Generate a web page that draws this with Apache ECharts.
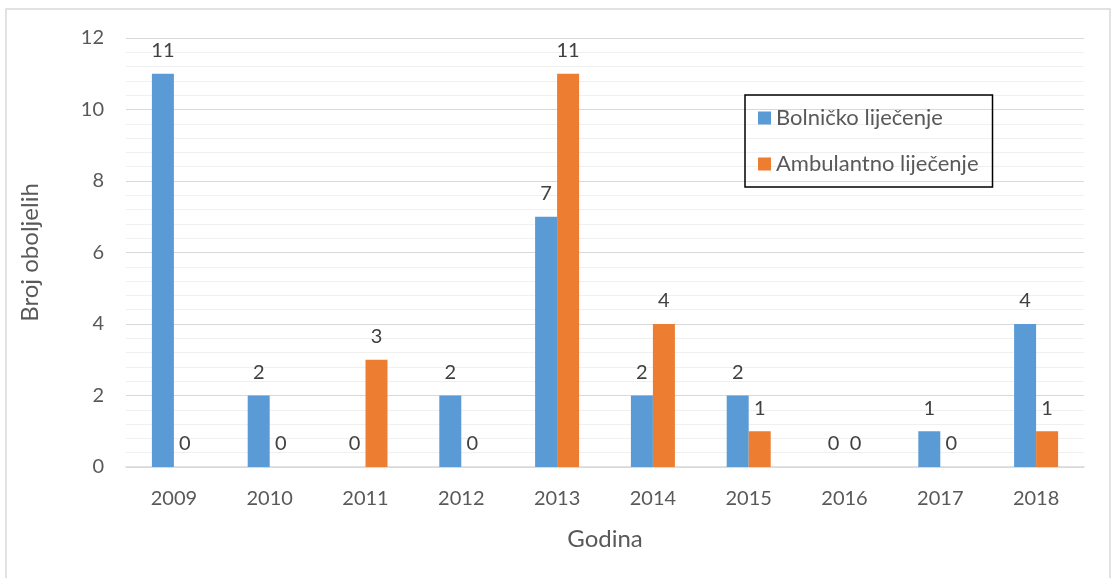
<!DOCTYPE html>
<html>
<head>
<meta charset="utf-8">
<script src="https://cdn.jsdelivr.net/npm/echarts@6/dist/echarts.min.js"></script>
<style>
  html, body { margin: 0; padding: 0; background: #fff; }
  #main { width: 1118px; height: 578px; }
</style>
</head>
<body>
<div id="main"></div>
<script>
  var godine = ['2009', '2010', '2011', '2012', '2013', '2014', '2015', '2016', '2017', '2018'];
  var bolnicko = [11, 2, 0, 2, 7, 2, 2, 0, 1, 4];
  var ambulantno = [0, 0, 3, 0, 11, 4, 1, 0, 0, 1];

  var font = 'Lato, "Open Sans", sans-serif';
  var myChart = echarts.init(document.getElementById('main'));

  var labelCfg = {
    show: true,
    position: 'top',
    distance: 13,
    color: '#404040',
    fontSize: 20,
    fontFamily: font
  };

  var option = {
    animation: false,
    textStyle: { fontFamily: font },
    graphic: [{
      type: 'rect',
      shape: { x: 6, y: 9, width: 1104, height: 575 },
      style: { fill: 'none', stroke: '#d9d9d9', lineWidth: 1.5 },
      silent: true
    }],
    legend: {
      orient: 'vertical',
      left: 745,
      top: 95,
      itemWidth: 13,
      itemHeight: 13,
      itemGap: 24,
      padding: [12, 14, 12, 13],
      borderColor: '#000',
      borderWidth: 1.5,
      icon: 'rect',
      textStyle: { color: '#595959', fontSize: 22, fontFamily: font },
      data: ['Bolničko liječenje', 'Ambulantno liječenje']
    },
    grid: { left: 126, right: 34, top: 38, bottom: 111 },
    xAxis: {
      type: 'category',
      data: godine,
      name: 'Godina',
      nameLocation: 'middle',
      nameGap: 60,
      nameTextStyle: { color: '#595959', fontSize: 24, fontFamily: font },
      axisLine: { lineStyle: { color: '#d9d9d9', width: 1.5 } },
      axisTick: { show: false },
      axisLabel: { color: '#595959', fontSize: 20, margin: 22, fontFamily: font }
    },
    yAxis: {
      type: 'value',
      min: 0,
      max: 12,
      interval: 2,
      name: 'Broj oboljelih',
      nameLocation: 'middle',
      nameGap: 84,
      nameTextStyle: { color: '#595959', fontSize: 24, fontFamily: font },
      axisLine: { show: false },
      axisTick: { show: false },
      axisLabel: { color: '#595959', fontSize: 20, margin: 22, fontFamily: font },
      splitLine: { lineStyle: { color: '#d9d9d9', width: 1 } },
      minorTick: { show: false, splitNumber: 5 },
      minorSplitLine: { show: true, lineStyle: { color: '#f0f0f0', width: 1 } }
    },
    series: [{
      name: 'Bolničko liječenje',
      type: 'bar',
      data: bolnicko,
      barWidth: 22,
      barGap: '0%',
      itemStyle: { color: '#5b9bd5' },
      label: labelCfg
    }, {
      name: 'Ambulantno liječenje',
      type: 'bar',
      data: ambulantno,
      barWidth: 22,
      itemStyle: { color: '#ed7d31' },
      label: labelCfg
    }]
  };

  myChart.setOption(option);
  window.addEventListener('resize', function () {
    myChart.resize();
  });
</script>
</body>
</html>
